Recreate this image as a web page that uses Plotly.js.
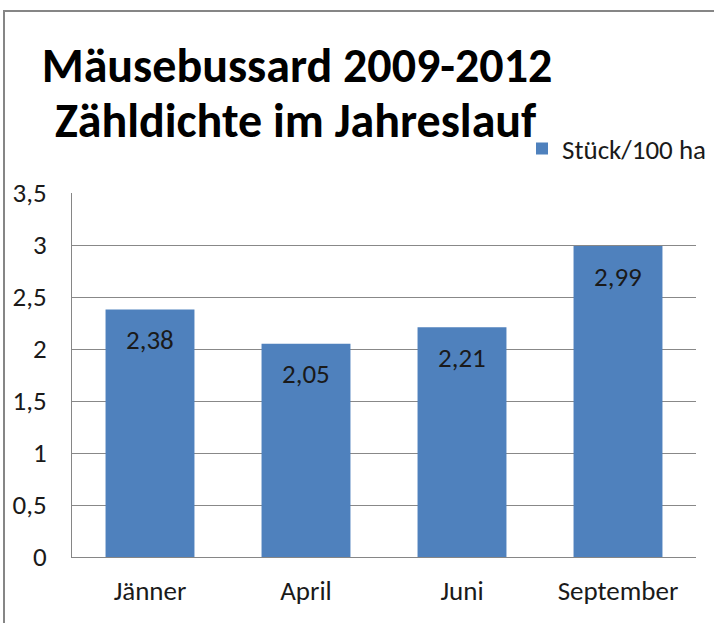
<!DOCTYPE html>
<html>
<head>
<meta charset="utf-8">
<script src="https://cdn.plot.ly/plotly-3.0.1.min.js"></script>
<style>
html,body{margin:0;padding:0;background:#fff;}
#chart{position:absolute;left:0;top:0;width:714px;height:623px;}
#frame{position:absolute;left:3px;top:10px;width:720px;height:640px;border-left:2px solid #868686;border-top:2px solid #868686;pointer-events:none;}
</style>
</head>
<body>
<div id="chart"></div>
<div id="frame"></div>
<script>
var categories = ["Jänner", "April", "Juni", "September"];
var values = [2.38, 2.05, 2.21, 2.99];
var seriesName = "Stück/100 ha";
var tickValues = [0, 0.5, 1, 1.5, 2, 2.5, 3, 3.5];
var tickLabels = ["0", "0,5", "1", "1,5", "2", "2,5", "3", "3,5"];

var FONT = "Carlito, Lato, sans-serif";

function fmt(v){ return v.toFixed(2).replace('.', ','); }

var trace = {
  type: 'bar',
  x: categories,
  y: values,
  name: seriesName,
  marker: {color: '#4F81BD'},
  hoverinfo: 'x+y',
  showlegend: true
};

var annotations = categories.map(function(c, i){
  return {
    x: c, y: values[i], xref: 'x', yref: 'y',
    text: fmt(values[i]), showarrow: false,
    yshift: -30, font: {family: FONT, size: 27, color: '#1a1a1a'}
  };
});

annotations.push({
  text: "Zähldichte im Jahreslauf",
  xref: 'paper', yref: 'paper',
  x: (296 - 72) / 624, y: 1 + (193 - 120) / 364,
  xanchor: 'center', yanchor: 'middle', showarrow: false,
  font: {family: FONT, size: 48, color: '#000', weight: 'bold'}
});

var layout = {
  width: 714, height: 623,
  margin: {l: 72, r: 18, t: 193, b: 66, pad: 0, autoexpand: false},
  paper_bgcolor: '#fff', plot_bgcolor: '#fff',
  separators: ',.',
  title: {
    text: "Mäusebussard 2009-2012",
    x: 297 / 714, xanchor: 'center', xref: 'container',
    y: 1 - 65 / 623, yanchor: 'middle', yref: 'container',
    font: {family: FONT, size: 48, color: '#000', weight: 'bold'}
  },
  bargap: 0.43,
  xaxis: {
    type: 'category',
    showline: true, linecolor: '#868686', linewidth: 1,
    ticks: '', showgrid: false,
    tickfont: {family: FONT, size: 27, color: '#1a1a1a'},
    ticklabelstandoff: 10
  },
  yaxis: {
    range: [0, 3.5],
    tickvals: tickValues, ticktext: tickLabels,
    showgrid: true, gridcolor: '#888888', gridwidth: 1,
    showline: true, linecolor: '#868686', linewidth: 1,
    zeroline: false, ticks: '',
    tickfont: {family: FONT, size: 27, color: '#1a1a1a'},
    ticklabelstandoff: 19
  },
  legend: {
    x: 712 / 714, xref: 'container', xanchor: 'right',
    y: 1 - 149 / 623, yref: 'container', yanchor: 'middle',
    font: {family: FONT, size: 27, color: '#1a1a1a'},
    bgcolor: 'rgba(0,0,0,0)', itemwidth: 30, tracegroupgap: 0
  },
  annotations: annotations
};

Plotly.newPlot('chart', [trace], layout, {displayModeBar: false, staticPlot: true});
</script>
</body>
</html>
